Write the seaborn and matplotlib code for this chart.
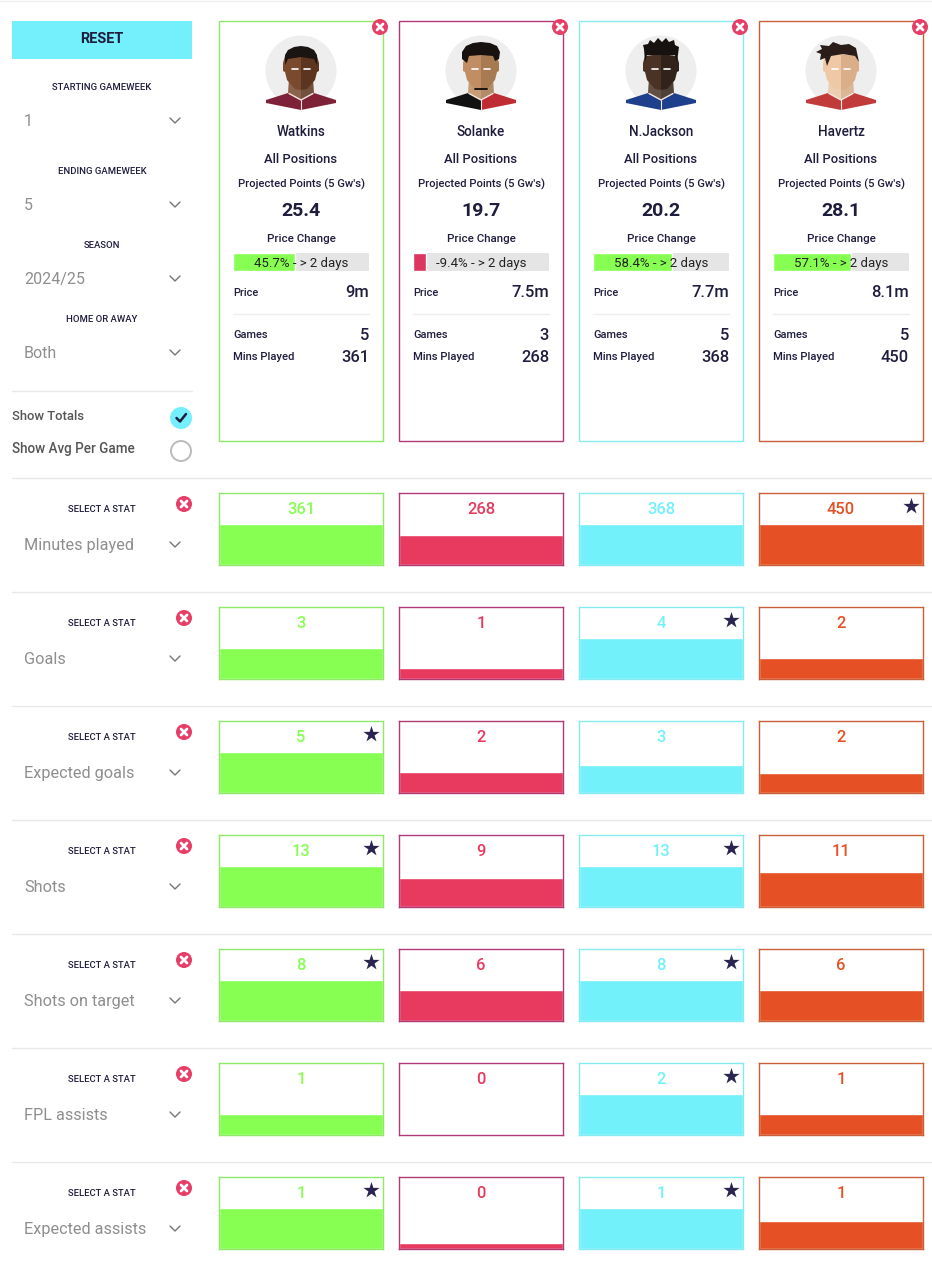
import matplotlib
matplotlib.use("Agg")
import matplotlib.pyplot as plt
from matplotlib.patches import Circle, Polygon, Rectangle
import seaborn as sns
import pandas as pd

players = ["Watkins", "Solanke", "N.Jackson", "Havertz"]
projected = ["25.4", "19.7", "20.2", "28.1"]
price_change = [45.7, -9.4, 58.4, 57.1]
prices = ["9m", "7.5m", "7.7m", "8.1m"]
games = ["5", "3", "5", "5"]
mins_played = ["361", "268", "368", "450"]

stats = ["Minutes played", "Goals", "Expected goals", "Shots", "Shots on target", "FPL assists", "Expected assists"]
stat_labels = [
    ["361", "268", "368", "450"],
    ["3", "1", "4", "2"],
    ["5", "2", "3", "2"],
    ["13", "9", "13", "11"],
    ["8", "6", "8", "6"],
    ["1", "0", "2", "1"],
    ["1", "0", "1", "1"],
]
# bar height as % of the cell
stat_fill = [
    [57, 42, 57, 57],
    [43, 15, 57, 29],
    [57, 29, 39, 28],
    [57, 40, 57, 49],
    [57, 43, 57, 43],
    [29, 0, 57, 29],
    [57, 8, 57, 39],
]
stat_best = [
    [0, 0, 0, 1],
    [0, 0, 1, 0],
    [1, 0, 0, 0],
    [1, 0, 1, 0],
    [1, 0, 1, 0],
    [0, 0, 1, 0],
    [1, 0, 1, 0],
]
filters = [("STARTING GAMEWEEK", "1"), ("ENDING GAMEWEEK", "5"), ("SEASON", "2024/25"), ("HOME OR AWAY", "Both")]

colors = ["#86FF52", "#E8395F", "#72F1FB", "#E55024"]
borders = ["#8FE86A", "#B03A78", "#86EAF2", "#C9603A"]
navy = "#1F1D3D"
grey = "#8E8E8E"
red = "#E63E66"
W, H = 932, 1264

sns.set_theme(style="white")
plt.rcParams["font.family"] = ["Roboto", "DejaVu Sans"]

fig = plt.figure(figsize=(W / 100, H / 100), dpi=100, facecolor="white")


def px_axes(x0, y0, x1, y1, **kw):
    return fig.add_axes([x0 / W, 1 - y1 / H, (x1 - x0) / W, (y1 - y0) / H], **kw)


def pt(px):
    return px * 0.72


ov = px_axes(0, 0, W, H, zorder=10)
ov.set_xlim(0, W)
ov.set_ylim(H, 0)
ov.axis("off")
ov.patch.set_alpha(0)


def label(x, y, s, px=12, color=navy, ha="center", weight="normal"):
    ov.text(x, y + 1, s, fontsize=pt(px), color=color, ha=ha, va="center", fontweight=weight)


def close_icon(x, y):
    ov.add_patch(Circle((x, y), 8, fc=red, ec="none"))
    ov.plot([x - 3, x + 3], [y - 3, y + 3], color="white", lw=2, solid_capstyle="round")
    ov.plot([x - 3, x + 3], [y + 3, y - 3], color="white", lw=2, solid_capstyle="round")


def chevron(x, y):
    ov.plot([x - 5, x, x + 5], [y - 3, y + 2, y - 3], color="#777777", lw=1)


def avatar(cx, skin_a, skin_b, hair, shirt_a, shirt_b, style):
    ov.add_patch(Circle((cx, 71), 35.5, fc="#EEEEEE", ec="none"))
    # shirt
    ov.add_patch(Polygon([(cx - 35, 100), (cx - 13, 93), (cx, 100), (cx, 110), (cx - 35, 103)], fc=shirt_a, ec="none"))
    ov.add_patch(Polygon([(cx + 35, 100), (cx + 13, 93), (cx, 100), (cx, 110), (cx + 35, 103)], fc=shirt_b, ec="none"))
    ov.plot([cx - 12, cx, cx + 12], [93.5, 100, 93.5], color="#F4E6E0", lw=1)
    ov.plot([cx, cx], [100, 110], color="#F4E6E0", lw=0.8)
    # neck, darker than the face
    ov.add_patch(Polygon([(cx - 12, 78), (cx, 88), (cx, 100), (cx - 13, 93)], fc=skin_a, ec="none", alpha=0.85))
    ov.add_patch(Polygon([(cx + 12, 78), (cx, 88), (cx, 100), (cx + 13, 93)], fc=skin_b, ec="none", alpha=0.85))
    # head halves and ears
    ov.add_patch(Polygon([(cx - 16, 56), (cx, 54), (cx, 90), (cx - 6, 89), (cx - 14, 80), (cx - 16, 72), (cx - 18, 71), (cx - 18, 63)], fc=skin_a, ec="none"))
    ov.add_patch(Polygon([(cx + 16, 56), (cx, 54), (cx, 90), (cx + 6, 89), (cx + 14, 80), (cx + 16, 72), (cx + 18, 71), (cx + 18, 63)], fc=skin_b, ec="none"))
    ov.plot([cx - 9, cx - 3], [68.5, 68.5], color="white", lw=1.2)
    ov.plot([cx + 3, cx + 9], [68.5, 68.5], color="white", lw=1.2)
    if style == "short":
        top = [(cx - 16, 65), (cx - 16, 55), (cx - 13, 50), (cx - 7, 47), (cx, 46), (cx + 7, 47), (cx + 13, 50), (cx + 16, 55), (cx + 16, 65), (cx + 13, 59), (cx, 57), (cx - 13, 59)]
    elif style == "curly":
        top = [(cx - 19, 59), (cx - 19, 52), (cx - 15, 46), (cx - 8, 43), (cx, 42), (cx + 9, 43), (cx + 16, 46), (cx + 19, 52), (cx + 18, 59), (cx + 14, 61), (cx + 12, 56), (cx, 55), (cx - 12, 56), (cx - 14, 63)]
    elif style == "spiky":
        top = [(cx - 16, 62), (cx - 17, 49), (cx - 18, 45), (cx - 13, 44), (cx - 11, 40), (cx - 7, 43), (cx - 3, 38), (cx + 1, 42), (cx + 5, 38), (cx + 8, 42), (cx + 13, 40), (cx + 14, 45), (cx + 18, 47), (cx + 16, 62), (cx + 14, 55), (cx - 14, 55)]
    else:
        top = [(cx - 14, 66), (cx - 16, 58), (cx - 21, 60), (cx - 20, 54), (cx - 25, 52), (cx - 19, 49), (cx - 21, 45), (cx - 12, 46), (cx - 8, 42), (cx, 45), (cx + 8, 44), (cx + 15, 48), (cx + 18, 62), (cx + 14, 56), (cx + 2, 54), (cx - 10, 56)]
    ov.add_patch(Polygon(top, fc=hair, ec="none"))
    if style == "curly":
        ov.plot([cx - 6, cx + 6], [89, 89], color="#1B1410", lw=1.4)


# top strip + sidebar
ov.plot([0, W], [0.5, 0.5], color="#EEEEEE", lw=1)
ov.add_patch(Rectangle((12, 21), 180, 38, fc="#74F0FC", ec="none"))
label(102, 38, "RESET", 14.5, weight="bold")
for (title, val), ty, vy in zip(filters, [87, 171, 245, 319], [121, 205, 279, 353]):
    label(102, ty - 0.5, title, 9.5, weight="medium")
    label(24, vy - 0.5, val, 16, grey, ha="left")
    chevron(175, vy)
ov.plot([12, 192], [390.5, 390.5], color="#E8E8E8", lw=1)
label(12, 415.5, "Show Totals", 13, "#555555", ha="left", weight="medium")
label(12, 448.5, "Show Avg Per Game", 13.5, "#555555", ha="left", weight="medium")
ov.add_patch(Circle((181, 418), 11, fc="#74F0FC", ec="none"))
ov.plot([176.5, 180, 186], [418, 421.5, 414], color=navy, lw=1.8)
ov.add_patch(Circle((181, 451), 10, fc="white", ec="#BBBBBB", lw=1.4))

looks = [
    ("#7A4A2E", "#5C3520", "#1A1512", "#7E2238", "#7E2238", "short"),
    ("#C08E62", "#A87A52", "#17120F", "#111111", "#BE2D33", "curly"),
    ("#4A3325", "#32231A", "#17120F", "#1E3F8B", "#1E3F8B", "spiky"),
    ("#EFC9A6", "#D9AE88", "#2A1C18", "#C23B3B", "#C23B3B", "sweep"),
]

# player cards
for i, name in enumerate(players):
    x0 = 219 + 180 * i
    x1 = x0 + 164
    cx = (x0 + x1) / 2
    ov.add_patch(Rectangle((x0, 21), 164, 420, fc="none", ec=borders[i], lw=1))
    close_icon(x1 - 3, 27)
    avatar(cx, *looks[i])
    label(cx, 130.5, name, 13.5, weight="medium")
    label(cx, 158.5, "All Positions", 13, weight="medium")
    label(cx, 183.5, "Projected Points (5 Gw's)", 11.2, weight="medium")
    label(cx, 209.5, projected[i], 19.5, weight="bold")
    label(cx, 237.5, "Price Change", 11.5, weight="medium")
    label(x0 + 14, 291.5, "Price", 11, ha="left", weight="medium")
    label(x1 - 14, 291.5, prices[i], 16.5, ha="right", weight="medium")
    ov.plot([x0 + 14, x1 - 14], [313.5, 313.5], color="#EEEEEE", lw=1)
    label(x0 + 14, 334.5, "Games", 11, ha="left", weight="medium")
    label(x1 - 14, 334.5, games[i], 16.5, ha="right", weight="medium")
    label(x0 + 14, 356.5, "Mins Played", 11.2, ha="left", weight="medium")
    label(x1 - 14, 356.5, mins_played[i], 16.5, ha="right", weight="medium")

    # price change bar
    ax = px_axes(x0 + 14, 253, x1 - 14, 271, zorder=5)
    ax.set_facecolor("#E5E5E5")
    fill_col = colors[0] if price_change[i] > 0 else "#DC3560"
    sns.barplot(x=[abs(price_change[i])], y=[name], orient="h", color=fill_col, saturation=1, width=1, ax=ax)
    ax.set_xlim(0, 100)
    ax.set_ylim(0.5, -0.5)
    ax.set_xlabel("")
    ax.set_ylabel("")
    ax.set_xticks([])
    ax.set_yticks([])
    sns.despine(ax=ax, left=True, bottom=True)
    label(cx, 263, "%s%% - > 2 days" % price_change[i], 13.2, "#222222")

# stat rows
for r, stat in enumerate(stats):
    oy = 114 * r
    ov.plot([12, W], [477.5 + oy, 477.5 + oy], color="#E8E8E8", lw=1)
    label(102, 508.5 + oy, "SELECT A STAT", 9.5, weight="medium")
    close_icon(184, 504 + oy)
    label(24, 544.5 + oy, stat, 16.2, grey, ha="left")
    chevron(175, 545 + oy)
    df = pd.DataFrame({"player": players, "fill": stat_fill[r]})
    for i, name in enumerate(players):
        x0 = 219 + 180 * i
        ax = px_axes(x0, 493 + oy, x0 + 164, 565 + oy, zorder=5)
        sns.barplot(data=df[df["player"] == name], x="player", y="fill", color=colors[i], saturation=1, width=1, ax=ax)
        ax.set_xlim(-0.5, 0.5)
        ax.set_ylim(0, 100)
        ax.set_xlabel("")
        ax.set_ylabel("")
        ax.set_xticks([])
        ax.set_yticks([])
        for s in ax.spines.values():
            s.set_visible(True)
            s.set_color(borders[i])
            s.set_linewidth(1)
        label(x0 + 82, 509 + oy, stat_labels[r][i], 16.5, colors[i], weight="medium")
        if stat_best[r][i]:
            ov.scatter([x0 + 152], [505.5 + oy], marker="*", s=150, color="#2A2550", linewidths=0)

fig.savefig("out.png", dpi=100, facecolor="white")
